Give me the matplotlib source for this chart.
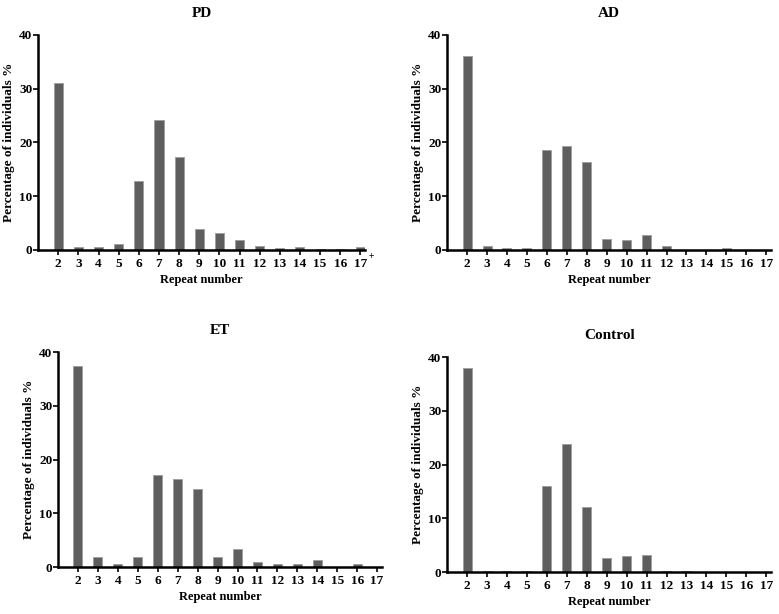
import numpy as np
import matplotlib
matplotlib.use('Agg')
import matplotlib.pyplot as plt
import matplotlib.transforms as mtransforms

plt.rcParams['font.family'] = ['Liberation Serif', 'DejaVu Serif']
plt.rcParams['font.weight'] = 'bold'

# Data
repeats = list(range(2, 18))
tick_labels = [str(r) for r in repeats]

pd_values = [31.0, 0.6, 0.45, 1.05, 12.9, 24.2, 17.3, 3.85, 3.2, 1.8, 0.8, 0.3, 0.55, 0.1, 0.1, 0.45]
ad_values = [36.1, 0.7, 0.35, 0.35, 18.6, 19.3, 16.4, 2.1, 1.75, 2.8, 0.7, 0.0, 0.0, 0.35, 0.0, 0.0]
et_values = [37.5, 1.9, 0.6, 1.9, 17.05, 16.4, 14.5, 1.9, 3.3, 0.95, 0.6, 0.6, 1.25, 0.0, 0.6, 0.0]
control_values = [37.9, 0.15, 0.15, 0.15, 16.0, 23.9, 12.1, 2.6, 2.9, 3.2, 0.15, 0.15, 0.0, 0.0, 0.0, 0.0]

panels = [
    ('PD', pd_values, [0.049, 0.593, 0.420, 0.350]),
    ('AD', ad_values, [0.574, 0.593, 0.416, 0.350]),
    ('ET', et_values, [0.0745, 0.0765, 0.416, 0.350]),
    ('Control', control_values, [0.574, 0.0684, 0.416, 0.350]),
]

fig = plt.figure(figsize=(7.79, 6.14), dpi=100)

for name, values, rect in panels:
    ax = fig.add_axes(rect)
    ax.bar(repeats, values, width=0.45, color='#5e5e5e',
           edgecolor='#a0a0a0', linewidth=0.7, zorder=2)

    ax.set_xlim(1, 17.25)
    ax.set_ylim(0, 40)
    ax.set_xticks(repeats)
    ax.set_xticklabels(tick_labels)
    ax.set_yticks([0, 10, 20, 30, 40])

    for side in ('top', 'right'):
        ax.spines[side].set_visible(False)
    for side in ('left', 'bottom'):
        ax.spines[side].set_linewidth(1.8)
        ax.spines[side].set_color('black')

    ax.tick_params(axis='both', direction='out', length=3.5, width=1.2,
                   labelsize=9.5)
    ax.tick_params(axis='x', pad=2)
    ax.tick_params(axis='y', pad=0.5)
    for lbl in ax.get_xticklabels() + ax.get_yticklabels():
        lbl.set_fontweight('bold')

    ax.set_title(name, fontsize=11, fontweight='bold', pad=13)
    ax.set_ylabel('Percentage of individuals %', fontsize=9.5,
                  fontweight='bold', labelpad=3)
    ax.set_xlabel('Repeat number', fontsize=9, fontweight='bold', labelpad=3)

    if name == 'PD':
        trans = mtransforms.blended_transform_factory(ax.transData, ax.transAxes)
        ax.text(17.42, -0.03, '+', transform=trans, fontsize=7,
                fontweight='bold', ha='left', va='center', clip_on=False)

fig.savefig('out.png', dpi=100)
